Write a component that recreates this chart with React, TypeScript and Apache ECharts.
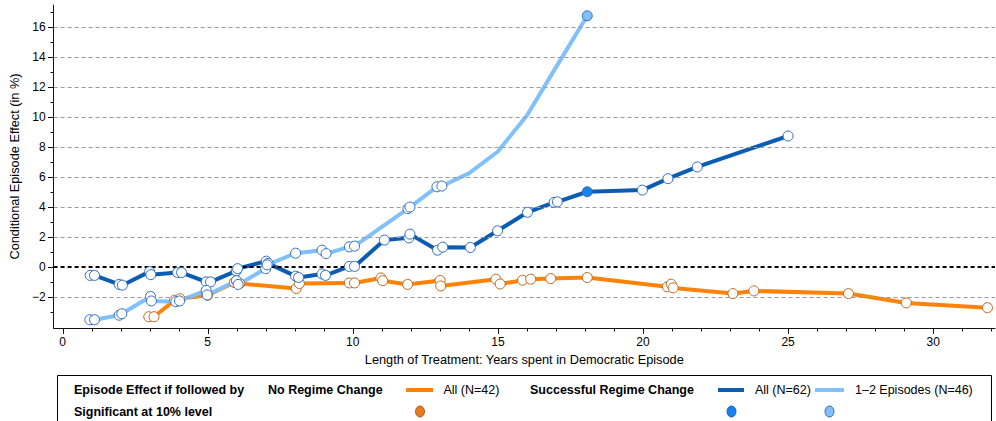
import React, { useEffect, useRef } from "react";
import * as echarts from "echarts";

// x = years in democratic episode, y = conditional episode effect (%), flag: 0 hollow, 1 significant (filled), -1 no marker
const noChangeAll: [number, number, number][] = [
  [2.97, -3.3, 0], [3.15, -3.3, 0], [3.86, -2.2, 0], [4.04, -2.1, 0], [5.0, -1.87, 0],
  [5.92, -1.02, 0], [6.1, -1.09, 0], [8.05, -1.42, 0], [8.16, -1.09, 0], [9.88, -1.05, 0],
  [10.06, -1.05, 0], [10.97, -0.72, 0], [11.03, -0.9, 0], [11.89, -1.15, 0], [13.01, -0.89, 0],
  [13.03, -1.25, 0], [14.93, -0.8, 0], [15.08, -1.12, 0], [15.85, -0.87, 0], [16.13, -0.8, 0],
  [16.82, -0.76, 0], [18.08, -0.69, 0], [20.84, -1.31, 0], [20.97, -1.13, 0], [21.04, -1.38, 0],
  [23.1, -1.76, 0], [23.82, -1.58, 0], [27.08, -1.76, 0], [29.07, -2.38, 0], [31.87, -2.7, 0],
];

const successAll: [number, number, number][] = [
  [0.95, -0.55, 0], [1.1, -0.55, 0], [1.95, -1.15, 0], [2.06, -1.2, 0], [3.0, -0.3, 0],
  [3.04, -0.5, 0], [3.96, -0.36, 0], [4.1, -0.36, 0], [4.95, -0.98, 0], [5.1, -0.98, 0],
  [5.99, -0.25, 0], [6.03, -0.1, 0], [7.02, 0.4, 0], [7.08, 0.25, 0], [8.03, -0.6, 0],
  [8.13, -0.69, 0], [8.94, -0.45, 0], [9.06, -0.55, 0], [9.88, 0.05, 0], [10.06, 0.05, 0],
  [11.09, 1.8, 0], [11.93, 1.95, 0], [11.97, 2.2, 0], [12.92, 1.13, 0], [13.1, 1.33, 0],
  [14.05, 1.31, 0], [14.99, 2.42, 0], [16.02, 3.65, 0], [16.94, 4.31, 0], [17.05, 4.35, 0],
  [18.08, 5.02, 1], [19.98, 5.13, 0], [20.86, 5.89, 0], [21.87, 6.67, 0], [25.0, 8.73, 0],
];

const success12: [number, number, number][] = [
  [0.94, -3.5, 0], [1.1, -3.5, 0], [1.95, -3.2, 0], [2.04, -3.1, 0], [3.03, -1.95, 0],
  [3.06, -2.25, 0], [3.9, -2.3, 0], [4.03, -2.25, 0], [4.95, -1.55, 0], [4.98, -1.85, 0],
  [5.99, -0.9, 0], [6.05, -1.15, 0], [7.0, -0.1, 0], [7.05, 0.15, 0], [8.03, 0.93, 0],
  [8.94, 1.13, 0], [9.08, 0.9, 0], [9.88, 1.35, 0], [10.06, 1.4, 0], [11.9, 3.9, 0],
  [11.97, 4.0, 0], [12.9, 5.35, 0], [13.07, 5.4, 0], [14.0, 6.24, -1], [15.0, 7.7, -1],
  [16.0, 10.1, -1], [17.0, 13.3, -1], [18.08, 16.73, 1],
];

const yMajorTicks = [-2, 0, 2, 4, 6, 8, 10, 12, 14, 16];
const yMinorTicks = [-3, -1, 1, 3, 5, 7, 9, 11, 13, 15, 17];
const xMajorTicks = [0, 5, 10, 15, 20, 25, 30];
const xMinorTicks = [1, 2, 3, 4, 6, 7, 8, 9, 11, 12, 13, 14, 16, 17, 18, 19, 21, 22, 23, 24, 26, 27, 28, 29, 31, 32];
const gridLineValues = [-2, 2, 4, 6, 8, 10, 12, 14, 16];

const xTitle = "Length of Treatment: Years spent in Democratic Episode";
const yTitle = "Conditional Episode Effect (in %)";

const C_ORANGE = "#ff8308";
const C_DARK = "#0b5db3";
const C_LIGHT = "#80c1fb";
const M_BLUE_EDGE = "#2e6dc0";
const M_ORANGE_EDGE = "#c0661e";
const FONT = "'Liberation Sans', Arial, Helvetica, sans-serif";

const X_MIN = -0.31;
const X_MAX = 32.13;
const Y_MIN = -4.05;
const Y_MAX = 17.45;
const AXIS_COLOR = "#111";

function fmt(v: number) {
  return v < 0 ? "\u2212" + Math.abs(v) : String(v);
}

function markers(data: [number, number, number][], edge: string, fill: string) {
  return data
    .filter((d) => d[2] >= 0)
    .map((d) => ({
      value: [d[0], d[1]],
      itemStyle: {
        color: d[2] === 1 ? fill : "#ffffff",
        borderColor: edge,
        borderWidth: 1,
        opacity: 1,
      },
    }));
}

export default function App() {
  const ref = useRef<HTMLDivElement>(null);
  useEffect(() => {
    if (!ref.current) return;
    const chart = echarts.init(ref.current, undefined, { renderer: "svg" });
    const legendText = (x: number, y: number, text: string, bold: boolean) => ({
      type: "text",
      x,
      y,
      style: {
        text,
        fill: "#000",
        font: `${bold ? "bold " : ""}12.5px ${FONT}`,
        verticalAlign: "middle",
        align: "left",
      },
    });
    const legendLine = (x1: number, x2: number, y: number, color: string) => ({
      type: "line",
      shape: { x1, y1: y, x2, y2: y },
      style: { stroke: color, lineWidth: 4 },
    });
    const legendDot = (cx: number, cy: number, fill: string, stroke: string) => ({
      type: "ellipse",
      shape: { cx, cy, rx: 4.5, ry: 5.5 },
      style: { fill, stroke, lineWidth: 1 },
    });
    const option: any = {
      animation: false,
      backgroundColor: "#ffffff",
      grid: { left: 52, right: 1, top: 5, bottom: 93 },
      xAxis: {
        type: "value",
        min: X_MIN,
        max: X_MAX,
        name: xTitle,
        nameLocation: "middle",
        nameGap: 22,
        nameTextStyle: { fontFamily: FONT, fontSize: 12.75, color: "#000" },
        axisLine: { show: true, onZero: false, lineStyle: { color: AXIS_COLOR, width: 1 } },
        axisTick: { show: false },
        axisLabel: {
          customValues: xMajorTicks,
          formatter: (v: number) => fmt(v),
          fontFamily: FONT,
          fontSize: 12,
          color: "#000",
          margin: 8,
        },
        splitLine: { show: false },
      },
      yAxis: {
        type: "value",
        min: Y_MIN,
        max: Y_MAX,
        name: yTitle,
        nameLocation: "middle",
        nameGap: 28,
        nameTextStyle: { fontFamily: FONT, fontSize: 12.75, color: "#000" },
        axisLine: { show: true, onZero: false, lineStyle: { color: AXIS_COLOR, width: 1 } },
        axisTick: { show: false },
        axisLabel: {
          customValues: yMajorTicks,
          formatter: (v: number) => fmt(v),
          fontFamily: FONT,
          fontSize: 12,
          color: "#000",
          margin: 8,
        },
        splitLine: { show: false },
      },
      series: [
        {
          type: "line",
          name: "gridlines",
          data: [],
          silent: true,
          markLine: {
            symbol: "none",
            silent: true,
            label: { show: false },
            data: [
              ...gridLineValues.map((v) => ({
                yAxis: v,
                lineStyle: { color: "#9a9a9a", type: [4, 3], width: 1 },
              })),
              { yAxis: 0, lineStyle: { color: "#000", type: [4, 3], width: 2 } },
            ],
          },
        },
        {
          type: "line",
          name: "No Regime Change: All (N=42)",
          data: noChangeAll.map((d) => [d[0], d[1]]),
          showSymbol: false,
          symbol: "none",
          lineStyle: { color: C_ORANGE, width: 4 },
          z: 3,
        },
        {
          type: "line",
          name: "Successful: All (N=62)",
          data: successAll.map((d) => [d[0], d[1]]),
          showSymbol: false,
          symbol: "none",
          lineStyle: { color: C_DARK, width: 4 },
          z: 3,
        },
        {
          type: "line",
          name: "Successful: 1-2 Episodes (N=46)",
          data: success12.map((d) => [d[0], d[1]]),
          showSymbol: false,
          symbol: "none",
          lineStyle: { color: C_LIGHT, width: 4 },
          z: 3,
        },
        {
          type: "scatter",
          data: markers(noChangeAll, M_ORANGE_EDGE, C_ORANGE),
          symbolSize: 10,
          itemStyle: { opacity: 1 },
          z: 5,
        },
        {
          type: "scatter",
          data: markers(successAll, M_BLUE_EDGE, "#1a80ee"),
          symbolSize: 10,
          itemStyle: { opacity: 1 },
          z: 5,
        },
        {
          type: "scatter",
          data: markers(success12, M_BLUE_EDGE, "#80bff7"),
          symbolSize: 10,
          itemStyle: { opacity: 1 },
          z: 5,
        },
      ],
    };
    chart.setOption(option);

    // Axis ticks positioned through the chart's own scales
    const toPx = (v: [number, number]) => chart.convertToPixel({ gridIndex: 0 }, v) as number[];
    const axisX = Math.round(toPx([X_MIN, 0])[0]);
    const axisY = Math.round(toPx([0, Y_MIN])[1]);
    const tick = (x1: number, y1: number, x2: number, y2: number) => ({
      type: "line",
      z: 100,
      shape: { x1, y1, x2, y2 },
      style: { stroke: AXIS_COLOR, lineWidth: 1 },
    });
    const yTicks = [
      ...yMajorTicks.map((v) => [v, 6]),
      ...yMinorTicks.map((v) => [v, 3.5]),
    ].map(([v, len]) => {
      const y = Math.round(toPx([X_MIN, v])[1]) + 0.5;
      return tick(axisX - len, y, axisX, y);
    });
    const xTicks = [
      ...xMajorTicks.map((v) => [v, 6]),
      ...xMinorTicks.map((v) => [v, 3.5]),
    ].map(([v, len]) => {
      const x = Math.round(toPx([v, Y_MIN])[0]) + 0.5;
      return tick(x, axisY, x, axisY + len);
    });

    chart.setOption({
      graphic: [
        ...yTicks,
        ...xTicks,
        {
          type: "rect",
          shape: { x: 57.5, y: 375.5, width: 934, height: 60 },
          style: { fill: "#fff", stroke: "#000", lineWidth: 1 },
        },
        legendText(74, 390, "Episode Effect if followed by", true),
        legendText(268, 390, "No Regime Change", true),
        legendLine(406, 433, 390, C_ORANGE),
        legendText(443.5, 390, "All (N=42)", false),
        legendText(530, 390, "Successful Regime Change", true),
        legendLine(718, 744, 390, C_DARK),
        legendText(755, 390, "All (N=62)", false),
        legendLine(815, 844, 390, C_LIGHT),
        legendText(855, 390, "1\u20132 Episodes (N=46)", false),
        legendText(74, 411.5, "Significant at 10% level", true),
        legendDot(420, 411.5, "#ea7a1f", "#b45a16"),
        legendDot(731.5, 411.5, "#1a80ee", "#1466c0"),
        legendDot(829.5, 411.5, "#80bff7", "#2e6dc0"),
      ],
    });
    return () => chart.dispose();
  }, []);
  return (
    <div
      ref={ref}
      style={{ position: "fixed", left: 0, top: 0, width: 996, height: 421, background: "#fff" }}
    />
  );
}
